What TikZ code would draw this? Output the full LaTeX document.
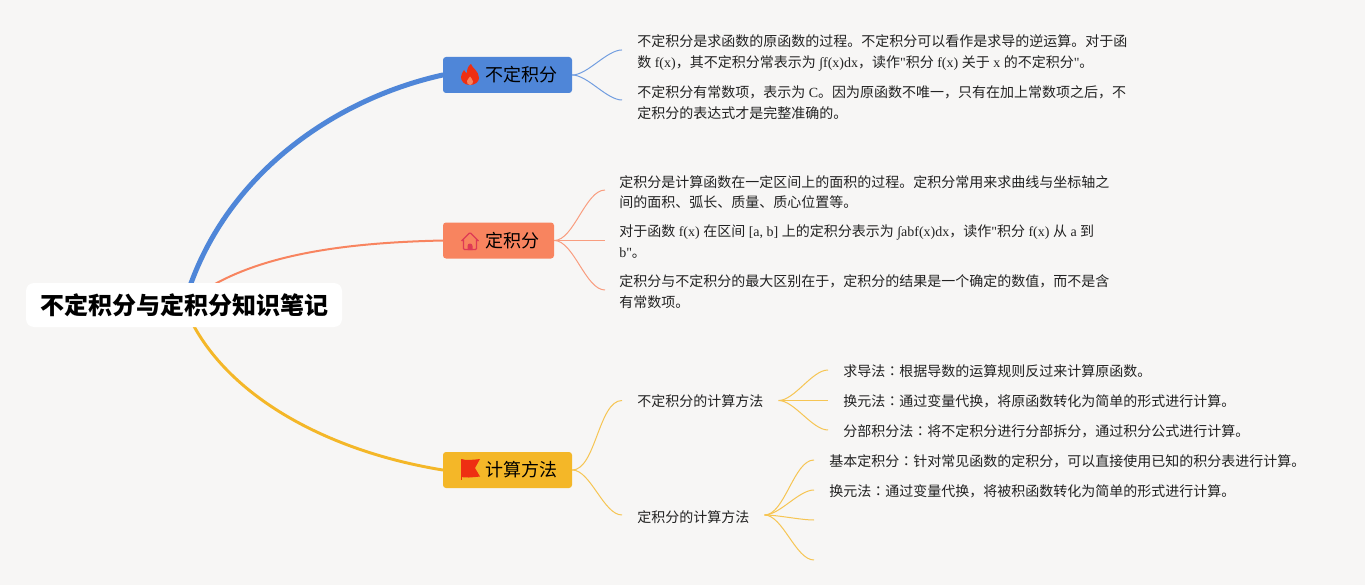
\documentclass[tikz,border=0pt]{standalone}
\usepackage{fontspec}
\setmainfont{Noto Sans CJK SC}
\newfontfamily\latfont{Liberation Serif}
\newfontfamily\twfont{Noto Sans CJK TC}
\newcommand{\lat}[1]{{\latfont #1}}
\newcommand{\cln}{{\twfont ：}}
\newcommand{\brlabel}[1]{\hspace{21pt}\raisebox{-1.4pt}{#1}}
\usetikzlibrary{positioning, backgrounds}
\definecolor{paper}{HTML}{F7F6F5}
\definecolor{bluebr}{HTML}{4F86D8}
\definecolor{redbr}{HTML}{F8845F}
\definecolor{yellowbr}{HTML}{F4B728}
\definecolor{iconred}{HTML}{EE2F12}
\definecolor{iconrose}{HTML}{DE3A55}
\definecolor{inkc}{HTML}{222222}

\begin{document}
\begin{tikzpicture}[
  x=0.75pt, y=-0.75pt,
  root/.style={fill=white, rounded corners=6pt, minimum width=237pt, minimum height=33pt,
               inner sep=0pt, font=\fontsize{18}{22}\selectfont\bfseries, text=black},
  branch/.style={rounded corners=2.25pt, minimum height=27pt, inner sep=0pt,
                 font=\fontsize{13.5}{16}\selectfont, text=black},
  leaf/.style={anchor=west, align=left, inner sep=0pt, text=inkc, yshift=-0.5pt,
               font=\fontsize{10.5}{15.6}\selectfont},
  main/.style={line cap=round},
  twig/.style={line width=0.75pt, out=0, in=180, looseness=0.7},
]

% Background
\useasboundingbox (0,0) rectangle (1365,585);

% Root
\node[root] (root) at (184,305) {\hspace{0.75pt}不定积分与定积分知识笔记};

% Branches
\node[branch, fill=bluebr, minimum width=96.75pt] (b1) at (507.5,75) {\brlabel{不定积分}};
\node[branch, fill=redbr, minimum width=83.25pt] (b2) at (498.5,240.5) {\brlabel{定积分}};
\node[branch, fill=yellowbr, minimum width=96.75pt] (b3) at (507.5,470) {\brlabel{计算方法}};

% Leaves of the first branch
\node[leaf] (a1) at (637,52.5) {不定积分是求函数的原函数的过程。不定积分可以看作是求导的逆运算。对于函\\数\lat{ f(x)}，其不定积分常表示为\lat{ ∫f(x)dx}，读作\lat{"}积分\lat{ f(x) }关于\lat{ x }的不定积分\lat{"}。};
\node[leaf] (a2) at (637,102) {不定积分有常数项，表示为\lat{ C}。因为原函数不唯一，只有在加上常数项之后，不\\定积分的表达式才是完整准确的。};
\coordinate[left=11.25pt of a1.west, yshift=2.4pt] (a1in);
\coordinate[left=11.25pt of a2.west, yshift=2pt] (a2in);

% Leaves of the second branch
\node[leaf] (c1) at (619,191.5) {定积分是计算函数在一定区间上的面积的过程。定积分常用来求曲线与坐标轴之\\间的面积、弧长、质量、质心位置等。};
\node[leaf] (c2) at (619,241) {对于函数\lat{ f(x) }在区间\lat{ [a, b] }上的定积分表示为\lat{ ∫abf(x)dx}，读作\lat{"}积分\lat{ f(x) }从\lat{ a }到\\\lat{b"}。};
\node[leaf] (c3) at (619,291) {定积分与不定积分的最大区别在于，定积分的结果是一个确定的数值，而不是含\\有常数项。};
\coordinate[left=10.5pt of c1.west, yshift=1.6pt] (c1in);
\coordinate (c2in) at (605,240.5);
\coordinate[left=10.5pt of c3.west, yshift=1.25pt] (c3in);

% Third branch, first level
\node[leaf] (d1) at (637,400.5) {不定积分的计算方法};
\node[leaf] (d2) at (637,516) {定积分的计算方法};
\coordinate[left=11.25pt of d1.west, yshift=0.5pt] (d1in);
\coordinate[left=11.25pt of d2.west, yshift=1.25pt] (d2in);
\coordinate[right=11.25pt of d1.east, yshift=0.5pt] (d1out);
\coordinate[right=11.25pt of d2.east, yshift=1.25pt] (d2out);

% Third branch, second level
\node[leaf] (e1) at (843,371) {求导法\cln{}根据导数的运算规则反过来计算原函数。};
\node[leaf] (e2) at (843,400.5) {换元法\cln{}通过变量代换，将原函数转化为简单的形式进行计算。};
\node[leaf] (e3) at (843,431) {分部积分法\cln{}将不定积分进行分部拆分，通过积分公式进行计算。};
\node[leaf] (f1) at (829,461) {基本定积分\cln{}针对常见函数的定积分，可以直接使用已知的积分表进行计算。};
\node[leaf] (f2) at (829,491) {换元法\cln{}通过变量代换，将被积函数转化为简单的形式进行计算。};
\coordinate[left=11.25pt of e1.west, yshift=1.25pt] (e1in);
\coordinate[left=11.25pt of e2.west, yshift=0.5pt] (e2in);
\coordinate[left=11.25pt of e3.west, yshift=1.25pt] (e3in);
\coordinate[left=11.25pt of f1.west, yshift=1.25pt] (f1in);
\coordinate[left=11.25pt of f2.west, yshift=1.25pt] (f2in);
\coordinate (f3in) at (814,520);
\coordinate (f4in) at (814,560);

% Connectors
\begin{scope}[on background layer]
  \fill[paper] (0,0) rectangle (1365,585);
  \draw[main, bluebr, line width=3.75pt] (root.center) .. controls (219,180) and (330,100) .. (b1.west);
  \draw[main, redbr, line width=1.5pt] (root.center) .. controls (240,258) and (330,243) .. (b2.west);
  \draw[main, yellowbr, line width=2.2pt] (root.center) .. controls (217,390) and (320,450) .. (b3.west);
  \draw[twig, bluebr!80] (b1.east) to (a1in);
  \draw[twig, bluebr!80] (b1.east) to (a2in);
  \draw[twig, redbr!80] (b2.east) to (c1in);
  \draw[twig, redbr!80] (b2.east) to (c2in);
  \draw[twig, redbr!80] (b2.east) to (c3in);
  \draw[twig, yellowbr!80] (b3.east) to (d1in);
  \draw[twig, yellowbr!80] (b3.east) to (d2in);
  \draw[twig, yellowbr!80] (d1out) to (e1in);
  \draw[twig, yellowbr!80] (d1out) to (e2in);
  \draw[twig, yellowbr!80] (d1out) to (e3in);
  \draw[twig, yellowbr!80] (d2out) to (f1in);
  \draw[twig, yellowbr!80] (d2out) to (f2in);
  \draw[twig, yellowbr!80] (d2out) to (f3in);
  \draw[twig, yellowbr!80] (d2out) to (f4in);
\end{scope}

% Icons
\fill[iconred] (470,85) .. controls (464,85) and (461,81) .. (461,77)
  .. controls (461,74) and (463,72) .. (464,70) .. controls (465,72) and (466,73) .. (467,73)
  .. controls (467,69) and (468,66) .. (471,64) .. controls (472,68) and (479,71) .. (479,78)
  .. controls (479,82) and (475,85) .. (470,85) -- cycle;
\fill[redbr] (470,85) .. controls (468,85) and (466.5,83) .. (467,81) .. controls (467.5,79) and (469,78.5) .. (470,76.5)
  .. controls (471,78.5) and (473,79.5) .. (473,81.5) .. controls (473,83.5) and (472,85) .. (470,85) -- cycle;
\draw[line width=0.9pt, draw=iconrose, rounded corners=0.8pt] (461.5,241) -- (470,232.5) -- (478.5,241) (463.5,239.5) -- (463.5,249.5) -- (476.5,249.5) -- (476.5,239.5);
\fill[iconrose] (467.5,250) -- (467.5,246) arc[start angle=180, end angle=360, radius=2.5] -- (472.5,250) -- cycle;
\fill[iconred] (461.5,459) .. controls (465,460.5) and (472,460) .. (480,459) -- (475,468) -- (480,476.5) .. controls (472,477.5) and (465,478) .. (461.5,477) -- cycle;
\draw[iconred, line width=0.6pt] (461.5,459) -- (461.5,480);

\end{tikzpicture}
\end{document}
